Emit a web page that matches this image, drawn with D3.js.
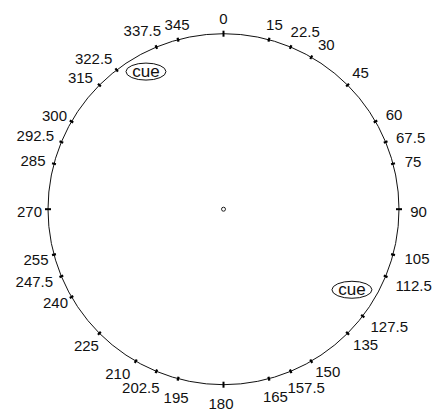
<!DOCTYPE html>
<html>
<head>
<meta charset="utf-8">
<script src="https://cdn.jsdelivr.net/npm/d3@7/dist/d3.min.js"></script>
<style>
  html, body { margin: 0; padding: 0; background: #fff; }
  svg { display: block; }
  text { font-family: "Liberation Sans", Arial, Helvetica, sans-serif; fill: #111; }
</style>
</head>
<body>
<div id="chart"></div>
<script>
// ---- data ----
const tickAngles = [0, 15, 22.5, 30, 45, 60, 67.5, 75, 90, 105, 112.5, 127.5, 135, 150, 157.5, 165,
                    180, 195, 202.5, 210, 225, 240, 247.5, 255, 270, 285, 292.5, 300, 315, 322.5, 337.5, 345];
const tickLabels = ["0", "15", "22.5", "30", "45", "60", "67.5", "75", "90", "105", "112.5", "127.5", "135", "150", "157.5", "165",
                    "180", "195", "202.5", "210", "225", "240", "247.5", "255", "270", "285", "292.5", "300", "315", "322.5", "337.5", "345"];
const cueLabels = ["cue", "cue"];
const cueAngles = [330.6, 122.1];
const cueRadii = [0.90, 0.864];

// ---- layout (label nudges, px, relative to each tick) ----
const labelNudge = [
  [0, -15], [5.5, -15], [14.5, -15], [15, -13], [13, -13], [18.5, -7], [25, -4], [20, -2],
  [19.5, 2], [24, 4], [28, 9], [26.5, 11], [18, 11], [16.5, 10], [15.5, 16], [6.5, 18],
  [-2.5, 19], [-2, 19], [-15.5, 16], [-18, 12], [-13, 12], [-16, 6], [-27, 5], [-18, 5],
  [-18.5, 2], [-21, -3], [-26, -6], [-17, -6], [-19, -8], [-23, -11], [-14, -16], [-1, -15]
];

const W = 433, H = 411;
const cx = 223.5, cy = 209.2, R = 175.5;

const svg = d3.select("#chart").append("svg").attr("width", W).attr("height", H);
const g = svg.append("g").attr("transform", `translate(${cx},${cy})`);

const angle = d3.scaleLinear().domain([0, 360]).range([0, 2 * Math.PI]);
const radius = d3.scaleLinear().domain([0, 1]).range([0, R]);

const px = (a, r) => r * Math.sin(angle(a));
const py = (a, r) => -r * Math.cos(angle(a));

// outer circle
g.append("circle").attr("r", radius(1)).attr("fill", "none").attr("stroke", "#111").attr("stroke-width", 1);

// ticks
const card = a => a % 90 === 0;
g.selectAll("line.tick").data(tickAngles).join("line")
  .attr("class", "tick")
  .attr("x1", a => px(a, radius(1) - (card(a) ? 3 : 2)))
  .attr("y1", a => py(a, radius(1) - (card(a) ? 3 : 2)))
  .attr("x2", a => px(a, radius(1) + (card(a) ? 3 : 2)))
  .attr("y2", a => py(a, radius(1) + (card(a) ? 3 : 2)))
  .attr("stroke", "#000").attr("stroke-width", a => card(a) ? 2 : 2.2);

// tick labels
g.selectAll("text.lab").data(tickAngles).join("text")
  .attr("class", "lab")
  .attr("x", (a, i) => px(a, radius(1)) + labelNudge[i][0])
  .attr("y", (a, i) => py(a, radius(1)) + labelNudge[i][1])
  .attr("text-anchor", "middle")
  .attr("dy", "0.36em")
  .attr("font-size", 15)
  .text((a, i) => tickLabels[i]);

// cues
const cues = g.selectAll("g.cue").data(cueAngles).join("g")
  .attr("class", "cue")
  .attr("transform", (a, i) => `translate(${px(a, radius(cueRadii[i]))},${py(a, radius(cueRadii[i]))})`);
cues.append("ellipse").attr("rx", 20).attr("ry", 8.5).attr("fill", "#fff").attr("stroke", "#111").attr("stroke-width", 1);
cues.append("text").attr("text-anchor", "middle").attr("dy", "0.3em").attr("font-size", 17).text((a, i) => cueLabels[i]);

// centre marker
g.append("circle").attr("r", 2).attr("fill", "#fff").attr("stroke", "#222").attr("stroke-width", 1);
</script>
</body>
</html>
